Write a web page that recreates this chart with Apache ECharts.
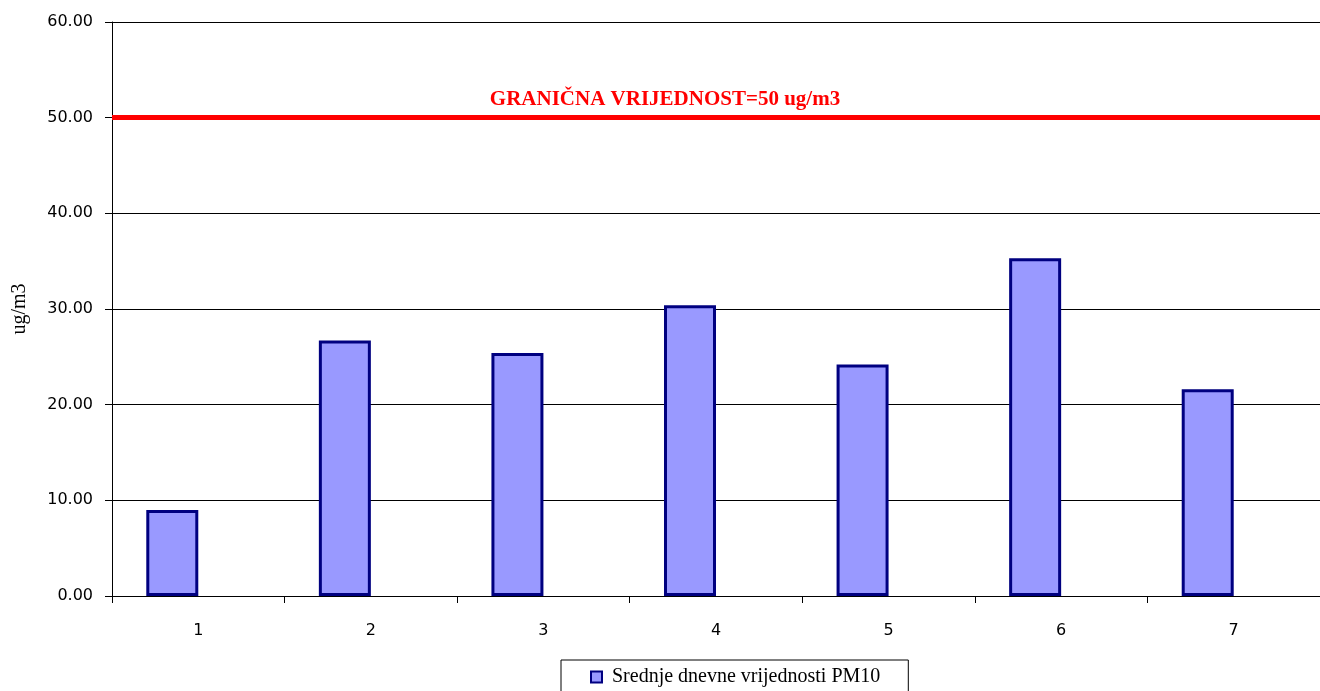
<!DOCTYPE html>
<html>
<head>
<meta charset="utf-8">
<script src="https://cdn.jsdelivr.net/npm/echarts@6/dist/echarts.min.js"></script>
<style>
  html, body { margin: 0; padding: 0; background: #fff; }
  #chart { width: 1320px; height: 691px; }
</style>
</head>
<body>
<div id="chart"></div>
<script>
// podaci
const days = ['1', '2', '3', '4', '5', '6', '7']
const pm10Values = [9.0, 26.7, 25.4, 30.4, 24.2, 35.3, 21.6]
const emptySlot = [null, null, null, null, null, null, null]
const limitValue = 50
const limitLabel = 'GRANIČNA VRIJEDNOST=50 ug/m3'
const seriesName = 'Srednje dnevne vrijednosti PM10'

const myChart = echarts.init(document.getElementById('chart'))

const option = {
  animation: false,
  textStyle: { fontFamily: 'Liberation Serif' },
  grid: {
    left: 112,
    top: 22,
    width: 1216,
    bottom: 95
  },
  legend: {
    data: [seriesName],
    left: 561,
    top: 660,
    orient: 'horizontal',
    icon: 'rect',
    itemWidth: 11,
    itemHeight: 11,
    padding: [7, 28, 14, 29],
    borderColor: '#000',
    borderWidth: 1,
    textStyle: {
      fontFamily: 'Liberation Serif',
      fontSize: 20,
      color: '#000',
      padding: [0, 0, 0, 5]
    }
  },
  xAxis: {
    type: 'category',
    data: days,
    axisLine: { lineStyle: { color: '#000', width: 1 } },
    axisTick: { show: true, length: 7, lineStyle: { color: '#000' } },
    axisLabel: {
      color: '#000',
      fontFamily: 'DejaVu Sans',
      fontSize: 16,
      margin: 27
    }
  },
  yAxis: {
    type: 'value',
    min: 0,
    max: 60,
    interval: 10,
    name: 'ug/m3',
    nameLocation: 'middle',
    nameGap: 82,
    nameTextStyle: {
      fontFamily: 'Liberation Serif',
      fontSize: 20,
      color: '#000'
    },
    axisLine: { show: true, lineStyle: { color: '#000', width: 1 } },
    axisTick: { show: true, length: 7, lineStyle: { color: '#000' } },
    axisLabel: {
      color: '#000',
      fontFamily: 'DejaVu Sans',
      fontSize: 16,
      margin: 19,
      formatter: v => v.toFixed(2)
    },
    splitLine: { lineStyle: { color: '#000', width: 1 } }
  },
  series: [
    {
      name: seriesName,
      type: 'bar',
      barWidth: 52,
      barGap: '0%',
      data: pm10Values,
      itemStyle: {
        color: '#9999ff',
        borderColor: '#000080',
        borderWidth: 3
      },
      markLine: {
        silent: true,
        symbol: 'none',
        lineStyle: { color: '#ff0000', width: 5, type: 'solid' },
        label: {
          show: true,
          position: 'middle',
          formatter: limitLabel,
          color: '#ff0000',
          fontFamily: 'Liberation Serif',
          fontWeight: 'bold',
          fontSize: 21,
          distance: 8,
          offset: [-51, 0]
        },
        data: [{ yAxis: limitValue }]
      }
    },
    {
      name: 'prazno',
      type: 'bar',
      barWidth: 52,
      barGap: '0%',
      data: emptySlot,
      itemStyle: { color: 'transparent' }
    }
  ]
}

myChart.setOption(option)
</script>
</body>
</html>
